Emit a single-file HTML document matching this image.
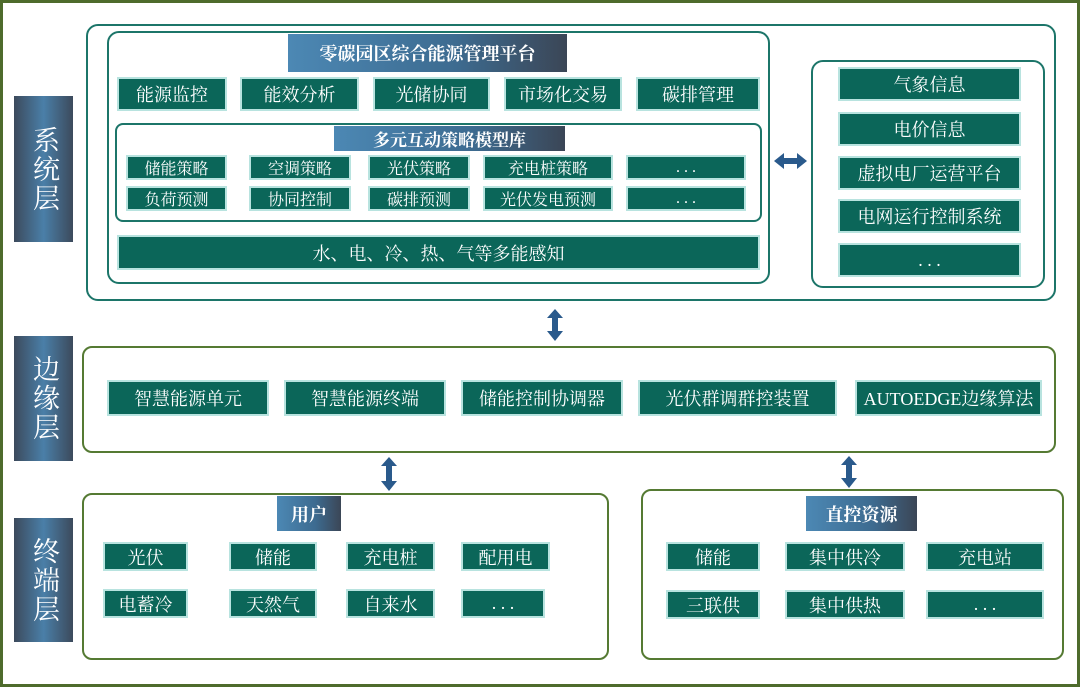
<!DOCTYPE html>
<html><head><meta charset="utf-8"><style>
body{margin:0;width:1080px;height:687px;position:relative;background:#fff;font-family:"Liberation Serif","Noto Serif CJK SC","Noto Sans CJK SC",serif;overflow:hidden}
div{position:absolute;box-sizing:border-box}
.frame{left:0;top:0;width:1080px;height:687px;border:3px solid #4e6b2c}
.lay{background:linear-gradient(90deg,#3c4a5c,#4a7fa8 50%,#3c4a5c);color:#fff;font-size:27px;line-height:33px;text-align:center;display:flex;align-items:center;justify-content:center;writing-mode:vertical-rl;letter-spacing:2px}
.g{background:#0b6659;border:2px solid #b8e3df;color:#fff;font-size:18px;display:flex;align-items:center;justify-content:center;white-space:nowrap}
.s{font-size:16px}
.bt{border:2px solid #1c7569;border-radius:12px}
.bo{border:2px solid #557a33;border-radius:10px}
.t{background:linear-gradient(90deg,#4c88b4,#3d6b90 60%,#3b4656);color:#fff;font-weight:bold;font-size:18px;display:flex;align-items:center;justify-content:center}
</style></head><body>
<div class="frame"></div>
<div class="lay" style="left:14px;top:96px;width:59px;height:146px">系统层</div>
<div class="lay" style="left:14px;top:336px;width:59px;height:125px">边缘层</div>
<div class="lay" style="left:14px;top:518px;width:59px;height:124px">终端层</div>

<div class="bt" style="left:86px;top:24px;width:970px;height:277px"></div>
<div class="bt" style="left:107px;top:31px;width:663px;height:253px"></div>
<div class="t" style="left:288px;top:34px;width:279px;height:38px">零碳园区综合能源管理平台</div>
<div class="g" style="left:117px;top:77px;width:110px;height:34px">能源监控</div>
<div class="g" style="left:240px;top:77px;width:119px;height:34px">能效分析</div>
<div class="g" style="left:373px;top:77px;width:117px;height:34px">光储协同</div>
<div class="g" style="left:504px;top:77px;width:118px;height:34px">市场化交易</div>
<div class="g" style="left:636px;top:77px;width:124px;height:34px">碳排管理</div>
<div class="bt" style="left:115px;top:123px;width:647px;height:99px;border-radius:8px"></div>
<div class="t" style="left:334px;top:126px;width:231px;height:25px;font-size:17px">多元互动策略模型库</div>
<div class="g s" style="left:126px;top:155px;width:101px;height:25px">储能策略</div>
<div class="g s" style="left:249px;top:155px;width:102px;height:25px">空调策略</div>
<div class="g s" style="left:368px;top:155px;width:102px;height:25px">光伏策略</div>
<div class="g s" style="left:483px;top:155px;width:130px;height:25px">充电桩策略</div>
<div class="g s" style="left:626px;top:155px;width:120px;height:25px">. . .</div>
<div class="g s" style="left:126px;top:186px;width:101px;height:25px">负荷预测</div>
<div class="g s" style="left:249px;top:186px;width:102px;height:25px">协同控制</div>
<div class="g s" style="left:368px;top:186px;width:102px;height:25px">碳排预测</div>
<div class="g s" style="left:483px;top:186px;width:130px;height:25px">光伏发电预测</div>
<div class="g s" style="left:626px;top:186px;width:120px;height:25px">. . .</div>
<div class="g" style="left:117px;top:235px;width:643px;height:35px">水、电、冷、热、气等多能感知</div>

<div class="bt" style="left:811px;top:60px;width:234px;height:228px"></div>
<div class="g" style="left:838px;top:67px;width:183px;height:34px">气象信息</div>
<div class="g" style="left:838px;top:112px;width:183px;height:34px">电价信息</div>
<div class="g" style="left:838px;top:156px;width:183px;height:34px">虚拟电厂运营平台</div>
<div class="g" style="left:838px;top:199px;width:183px;height:34px">电网运行控制系统</div>
<div class="g" style="left:838px;top:243px;width:183px;height:34px">. . .</div>

<svg style="position:absolute;left:0;top:0" width="1080" height="687">
<g fill="#2a5a8c">
<polygon points="774,161 784,153 784,158 797,158 797,153 807,161 797,169 797,164 784,164 784,169"/>
<polygon points="555,309 563,318 558,318 558,331 563,331 555,341 547,331 552,331 552,318 547,318"/>
<polygon points="389,457 397,466 392,466 392,481 397,481 389,491 381,481 386,481 386,466 381,466"/>
<polygon points="849,456 857,465 852,465 852,478 857,478 849,488 841,478 846,478 846,465 841,465"/>
</g></svg>

<div class="bo" style="left:82px;top:346px;width:974px;height:107px"></div>
<div class="g" style="left:107px;top:380px;width:162px;height:36px">智慧能源单元</div>
<div class="g" style="left:284px;top:380px;width:162px;height:36px">智慧能源终端</div>
<div class="g" style="left:461px;top:380px;width:162px;height:36px">储能控制协调器</div>
<div class="g" style="left:638px;top:380px;width:199px;height:36px">光伏群调群控装置</div>
<div class="g" style="left:855px;top:380px;width:187px;height:36px">AUTOEDGE边缘算法</div>

<div class="bo" style="left:82px;top:493px;width:527px;height:167px"></div>
<div class="t" style="left:277px;top:496px;width:64px;height:35px">用户</div>
<div class="g" style="left:103px;top:542px;width:85px;height:29px">光伏</div>
<div class="g" style="left:229px;top:542px;width:88px;height:29px">储能</div>
<div class="g" style="left:346px;top:542px;width:89px;height:29px">充电桩</div>
<div class="g" style="left:461px;top:542px;width:89px;height:29px">配用电</div>
<div class="g" style="left:103px;top:589px;width:85px;height:29px">电蓄冷</div>
<div class="g" style="left:229px;top:589px;width:88px;height:29px">天然气</div>
<div class="g" style="left:346px;top:589px;width:89px;height:29px">自来水</div>
<div class="g" style="left:461px;top:589px;width:84px;height:29px">. . .</div>

<div class="bo" style="left:641px;top:489px;width:423px;height:171px"></div>
<div class="t" style="left:806px;top:496px;width:111px;height:35px">直控资源</div>
<div class="g" style="left:666px;top:542px;width:94px;height:29px">储能</div>
<div class="g" style="left:785px;top:542px;width:120px;height:29px">集中供冷</div>
<div class="g" style="left:926px;top:542px;width:118px;height:29px">充电站</div>
<div class="g" style="left:666px;top:590px;width:94px;height:29px">三联供</div>
<div class="g" style="left:785px;top:590px;width:120px;height:29px">集中供热</div>
<div class="g" style="left:926px;top:590px;width:118px;height:29px">. . .</div>
</body></html>
